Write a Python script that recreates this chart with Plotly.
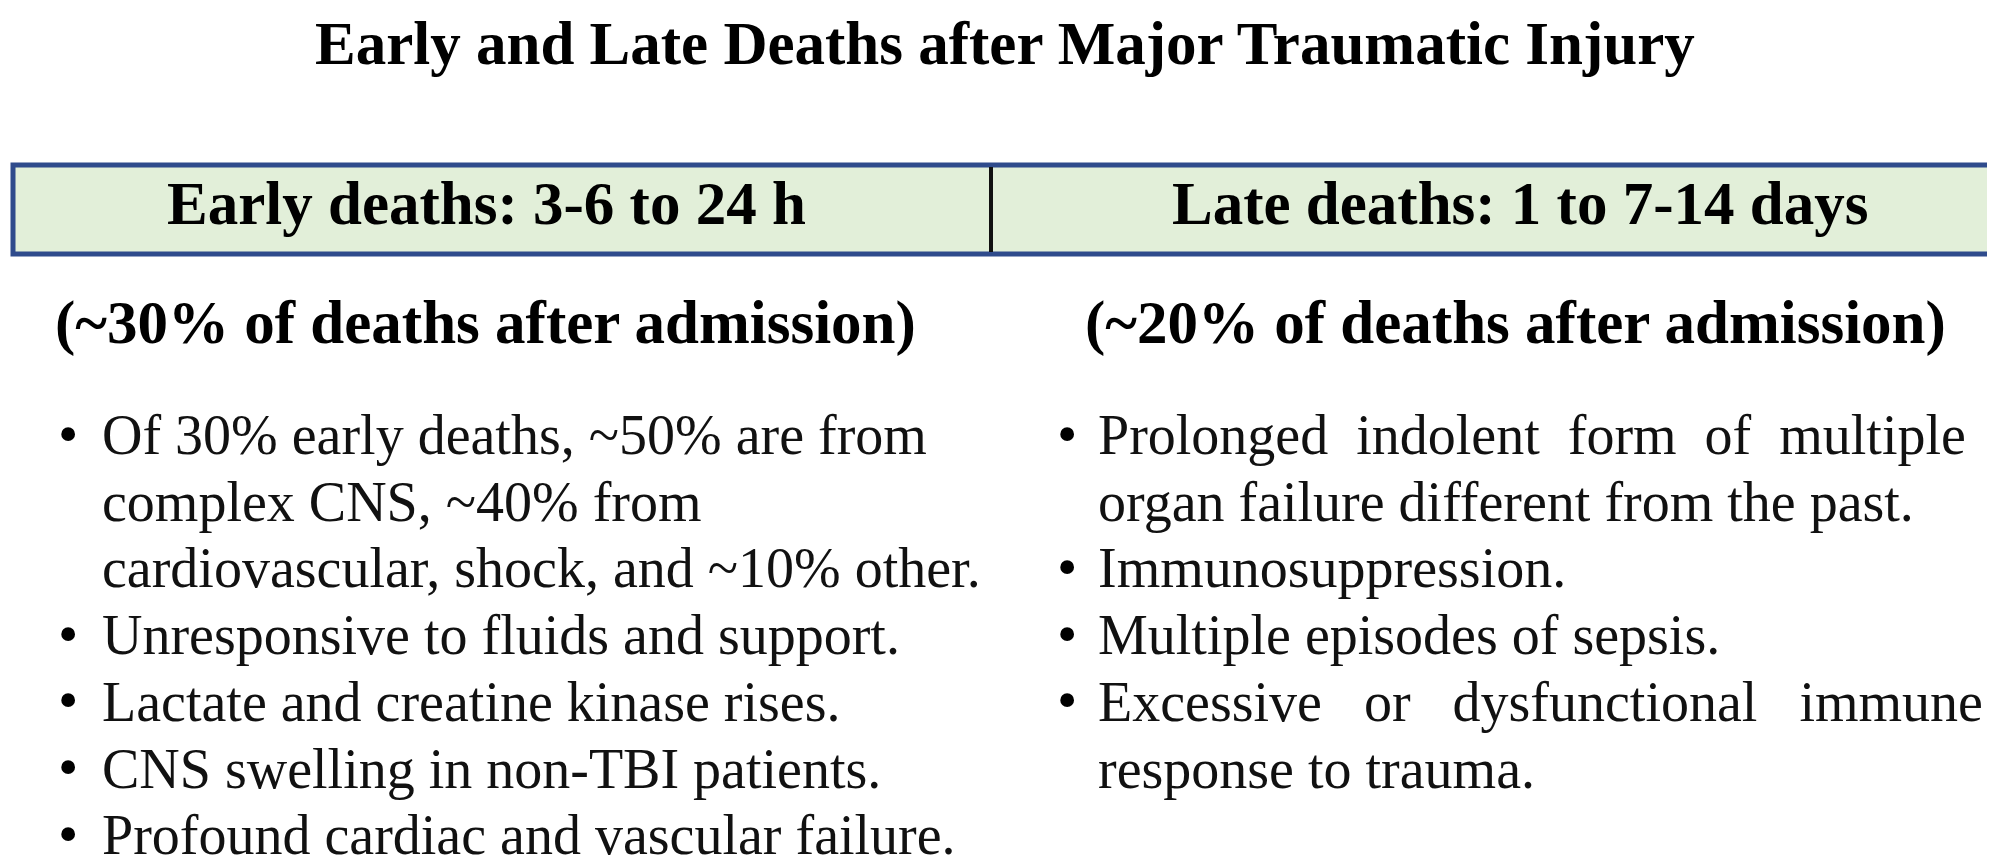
import plotly.graph_objects as go

# chart text
title = "Early and Late Deaths after Major Traumatic Injury"
headers = ["Early deaths: 3-6 to 24 h", "Late deaths: 1 to 7-14 days"]
subheaders = ["(~30% of deaths after admission)", "(~20% of deaths after admission)"]

left_items = [
    ["Of 30% early deaths, ~50% are from", "complex CNS, ~40% from",
     "cardiovascular, shock, and ~10% other."],
    ["Unresponsive to fluids and support."],
    ["Lactate and creatine kinase rises."],
    ["CNS swelling in non-TBI patients."],
    ["Profound cardiac and vascular failure."],
]
right_items = [
    ["Prolonged indolent form of multiple", "organ failure different from the past."],
    ["Immunosuppression."],
    ["Multiple episodes of sepsis."],
    ["Excessive or dysfunctional immune", "response to trauma."],
]
# lines that are justified to the full column width in the original
justified = {"Prolonged indolent form of multiple": "\u00a0\u00a0",
             "Excessive or dysfunctional immune": "\u00a0\u00a0\u00a0"}

W, H = 1995, 863
FONT = "Liberation Serif, Times New Roman, serif"

fig = go.Figure()
fig.add_trace(go.Scatter(x=[0, W], y=[0, H], mode="markers",
                         marker=dict(opacity=0), hoverinfo="skip", showlegend=False))

shapes = [
    dict(type="rect", x0=5, x1=1983, y0=157, y1=246, fillcolor="#E2EFD9",
         line=dict(color="#2F4B8C", width=5), layer="below"),
    dict(type="line", x0=983, x1=983, y0=159, y1=244,
         line=dict(color="#111111", width=4)),
]

ann = []
ann.append(dict(x=997, y=1, yanchor="top", borderpad=0,
                text="<b>" + title + "</b>", showarrow=False,
                font=dict(size=61, color="black", family=FONT)))

header_x = [478, 1512]
for hx, h in zip(header_x, headers):
    ann.append(dict(x=hx, y=195, text="<b>" + h + "</b>", showarrow=False,
                    font=dict(size=61, color="black", family=FONT)))

sub_x = [45, 1075]
for sx, s in zip(sub_x, subheaders):
    ann.append(dict(x=sx, y=315, text="<b>" + s + "</b>", showarrow=False,
                    xanchor="left", font=dict(size=61, color="black", family=FONT)))


def add_column(items, bullet_x, text_x):
    row = 0
    for item in items:
        for j, line in enumerate(item):
            y = 427 + row * 66.7
            if j == 0:
                ann.append(dict(x=bullet_x, y=y - 2, text="•", showarrow=False,
                                xanchor="center",
                                font=dict(size=58, color="black", family=FONT)))
            txt = line
            if line in justified:
                txt = justified[line].join(line.split(" "))
            ann.append(dict(x=text_x, y=y, text=txt, showarrow=False, xanchor="left",
                            font=dict(size=56, color="#111111", family=FONT)))
            row += 1


add_column(left_items, 60, 92)
add_column(right_items, 1059, 1088)

fig.update_layout(
    width=W, height=H,
    margin=dict(l=0, r=0, t=0, b=0),
    paper_bgcolor="white", plot_bgcolor="white",
    xaxis=dict(range=[0, W], visible=False, fixedrange=True),
    yaxis=dict(range=[H, 0], visible=False, fixedrange=True),
    shapes=shapes,
    annotations=ann,
    showlegend=False,
)

fig.write_html("out.html")
